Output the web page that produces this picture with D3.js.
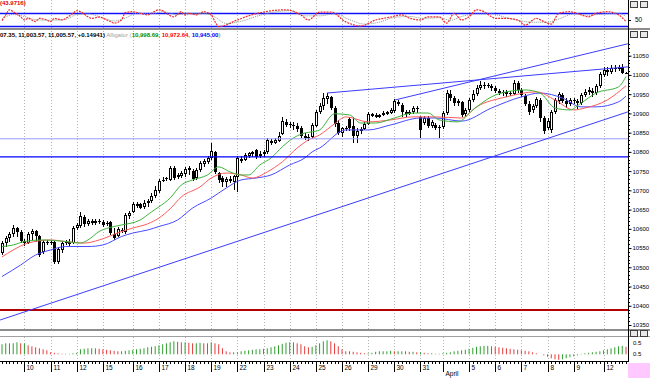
<!DOCTYPE html>
<html>
<head>
<meta charset="utf-8">
<script src="https://cdn.jsdelivr.net/npm/d3@7"></script>
<style>
body { margin: 0; background: #fff; }
svg { display: block; font-family: "Liberation Sans", Arial, sans-serif; }
</style>
</head>
<body>
<svg id="chart"></svg>
<script>
const width = 650, height = 378
const plotRight = 628

// hourly bars, [open, high, low, close]
const candles = [
  [10537,10568,10532,10563],[10563,10581,10553,10576],[10576,10592,10566,10587],[10587,10610,10579,10602],
  [10602,10605,10579,10592],[10592,10597,10563,10568],[10568,10574,10555,10563],[10563,10592,10561,10587],
  [10587,10600,10571,10594],[10594,10597,10566,10581],[10581,10584,10527,10532],[10540,10571,10535,10566],
  [10566,10571,10558,10563],[10563,10571,10558,10566],[10566,10568,10509,10514],[10514,10553,10509,10548],
  [10545,10568,10537,10563],[10563,10571,10558,10566],[10566,10574,10555,10561],[10563,10607,10561,10602],
  [10602,10615,10597,10610],[10607,10644,10602,10633],[10631,10636,10605,10613],[10613,10626,10607,10620],
  [10620,10626,10610,10615],[10615,10626,10610,10620],[10620,10626,10613,10618],[10618,10623,10605,10610],
  [10613,10620,10607,10615],[10618,10620,10584,10589],[10587,10602,10571,10576],[10581,10605,10579,10600],
  [10597,10602,10589,10594],[10592,10641,10587,10636],[10633,10646,10626,10641],[10644,10670,10641,10665],
  [10665,10670,10654,10659],[10665,10667,10652,10654],[10657,10675,10652,10667],[10667,10678,10657,10672],
  [10672,10693,10667,10685],[10685,10711,10680,10701],[10698,10730,10693,10724],[10724,10735,10722,10727],
  [10730,10735,10724,10732],[10727,10763,10724,10758],[10758,10763,10727,10732],[10735,10745,10730,10740],
  [10737,10750,10732,10745],[10743,10761,10735,10756],[10753,10763,10740,10758],[10750,10756,10724,10730],
  [10732,10758,10727,10753],[10753,10776,10748,10771],[10769,10782,10761,10776],[10774,10789,10769,10784],
  [10784,10823,10779,10802],[10800,10802,10743,10748],[10745,10748,10719,10727],[10732,10737,10709,10722],
  [10722,10735,10709,10730],[10730,10737,10719,10724],[10722,10740,10701,10737],[10735,10789,10696,10784],
  [10782,10789,10771,10776],[10779,10797,10776,10792],[10789,10800,10784,10797],[10795,10802,10787,10800],
  [10805,10808,10782,10787],[10789,10802,10784,10795],[10795,10805,10787,10800],[10800,10836,10795,10831],
  [10828,10834,10818,10823],[10823,10836,10821,10831],[10828,10852,10826,10841],[10847,10891,10844,10880],
  [10878,10886,10865,10870],[10870,10878,10862,10873],[10870,10878,10857,10867],[10867,10875,10852,10860],
  [10862,10867,10836,10841],[10841,10849,10831,10836],[10836,10847,10828,10839],[10839,10875,10834,10870],
  [10867,10909,10865,10904],[10904,10927,10899,10919],[10919,10953,10909,10940],[10938,10953,10925,10945],
  [10943,10945,10909,10914],[10914,10919,10865,10873],[10875,10883,10844,10849],[10849,10865,10839,10862],
  [10862,10867,10854,10860],[10886,10891,10854,10862],[10867,10891,10823,10841],[10841,10862,10823,10854],
  [10854,10865,10847,10860],[10860,10878,10857,10873],[10873,10904,10870,10899],[10893,10901,10891,10899],
  [10896,10901,10888,10891],[10891,10899,10888,10896],[10896,10906,10893,10901],[10899,10906,10896,10904],
  [10901,10914,10899,10909],[10906,10938,10901,10932],[10930,10935,10919,10925],[10922,10927,10891,10904],
  [10904,10909,10891,10899],[10899,10909,10896,10904],[10904,10919,10899,10914],[10914,10919,10901,10912],
  [10891,10893,10836,10857],[10875,10893,10870,10888],[10888,10893,10862,10867],[10867,10883,10862,10878],
  [10870,10875,10857,10862],[10862,10870,10836,10865],[10865,10906,10860,10901],[10901,10961,10896,10953],
  [10951,10961,10932,10940],[10940,10945,10919,10927],[10927,10938,10919,10932],[10930,10932,10891,10896],
  [10899,10914,10891,10909],[10909,10940,10904,10935],[10935,10961,10930,10951],[10951,10974,10945,10966],
  [10966,10984,10961,10974],[10974,10982,10964,10971],[10971,10979,10966,10974],[10971,10977,10958,10966],
  [10966,10971,10953,10958],[10958,10964,10948,10953],[10953,10961,10945,10956],[10956,10961,10943,10951],
  [10951,10958,10945,10953],[10951,10987,10948,10979],[10979,10984,10953,10961],[10961,10966,10943,10948],
  [10945,10951,10919,10925],[10925,10932,10896,10904],[10909,10925,10901,10919],[10919,10943,10914,10938],
  [10935,10940,10878,10888],[10888,10893,10847,10854],[10862,10888,10857,10880],[10857,10909,10849,10904],
  [10904,10940,10899,10935],[10932,10956,10925,10951],[10948,10953,10927,10932],[10932,10940,10914,10925],
  [10925,10940,10919,10935],[10935,10940,10925,10932],[10932,10938,10909,10927],[10927,10953,10922,10948],
  [10948,10964,10943,10956],[10956,10969,10948,10961],[10958,10966,10943,10953],[10953,10977,10948,10971],
  [10971,11008,10966,11003],[11000,11021,10995,11013],[11013,11021,10997,11008],[11008,11026,11003,11018],
  [11018,11026,11008,11016],[11016,11026,11010,11021],[11021,11029,11003,11006],[11005.5,11007.35,11003.57,11005.57]
]

// Alligator lines, [bar, price]
const lipsPoints = [[0,10554],[3,10558],[6,10567],[11,10571],[17,10567],[21,10563],[23,10571],[26,10593],[30,10606],[32,10610],[37,10623],[40,10644],[42,10657],[45,10680],[48,10714],[51,10727],[55,10740],[58,10761],[61,10748],[64,10740],[66,10740],[69,10766],[72,10784],[75,10813],[78,10836],[81,10849],[83,10852],[85,10857],[89,10899],[93,10896],[96,10875],[100,10875],[105,10888],[110,10901],[114,10901],[117,10883],[122,10878],[126,10909],[131,10943],[135,10956],[140,10961],[144,10953],[148,10914],[152,10909],[155,10927],[159,10953],[165,10969],[167,10996]]
const teethPoints = [[0,10527],[3,10545],[7,10563],[13,10571],[17,10567],[22,10563],[26,10571],[32,10593],[35,10602],[39,10613],[42,10628],[45,10652],[48,10683],[53,10709],[56,10732],[60,10745],[64,10740],[67,10732],[71,10748],[75,10774],[79,10810],[82,10831],[85,10844],[89,10873],[92,10891],[98,10878],[104,10883],[110,10891],[116,10891],[123,10888],[127,10917],[135,10943],[143,10956],[148,10935],[153,10909],[156,10914],[162,10935],[167,10972]]
const jawPoints = [[0,10476],[5,10506],[9,10532],[13,10545],[17,10554],[23,10554],[27,10558],[32,10580],[35,10589],[39,10597],[42,10606],[47,10623],[51,10654],[56,10680],[60,10706],[64,10727],[68,10732],[72,10740],[77,10766],[81,10784],[83,10800],[85,10810],[92,10857],[98,10857],[104,10870],[112,10888],[116,10888],[123,10880],[131,10914],[139,10943],[144,10953],[150,10940],[155,10917],[159,10917],[165,10930],[167,10945]]

// drawn objects
const trendLines = [
  {from: [-0.5, 10363], to: [167.5, 10904]},
  {from: [105.2, 10935], to: [167.5, 11081]},
  {from: [87, 10953], to: [167.5, 11021]},
]
const levels = [
  {price: 10834, color: "#9a9aff", w: 1},
  {price: 10787, color: "#0000ff", w: 1.4},
  {price: 10389, color: "#b40000", w: 2},
]

// top oscillator, [bar, value]
const oscMain = [[0,47],[1,65],[2,81],[3,75],[5,59],[6,49],[7,54],[9,44],[10,54],[12,49],[13,44],[14,54],[16,49],[17,54],[19,70],[20,78],[21,75],[23,59],[24,54],[26,58],[28,49],[29,44],[30,39],[32,49],[33,72],[35,75],[37,70],[39,65],[40,70],[42,81],[43,78],[44,70],[46,59],[48,75],[49,65],[50,70],[52,65],[53,70],[54,75],[56,65],[57,44],[58,28],[63,49],[66,62],[70,74],[76,81],[80,65],[82,49],[85,74],[88,74],[92,43],[96,30],[100,49],[104,58],[107,65],[109,55],[112,49],[114,59],[117,59],[119,39],[121,70],[123,49],[125,59],[127,81],[129,75],[131,59],[132,54],[135,54],[138,49],[140,33],[143,54],[145,44],[147,36],[149,70],[152,75],[155,65],[157,59],[159,70],[162,75],[165,65],[167,44]]
const oscSignal = [[0,52],[3,66],[6,60],[9,50],[13,48],[17,51],[20,66],[23,68],[27,56],[30,46],[33,55],[36,70],[40,68],[43,75],[47,66],[50,70],[54,70],[57,58],[60,38],[64,45],[68,60],[72,72],[77,78],[81,62],[85,62],[89,68],[93,50],[97,36],[101,42],[105,57],[109,60],[113,54],[117,56],[120,48],[123,60],[127,68],[131,68],[135,56],[139,46],[142,42],[146,42],[149,52],[153,68],[157,64],[161,68],[165,70],[167,60]]
const oscLevels = [70, 30]

// bottom histogram, one value per bar
const aoValues = [
  40,44,44,44,48,44,44, 36,32,28,24,20,16, 8,6,4,2,2,2,4,6, 20,22,24,24,24,22,
  20,18,16,14,12,12,14,16, 18,20,22,24,28,30,32,36,
  40,44,48,52,50,48,48,46,44,44,46,44,44,48,44,40, 24,12,8,8,
  8,12,14,16,18,20,20,22,24,28,32,36, 42,46,48,48,44, 40,32,28,30, 36,44,52,56,52,
  44,32,20,12, 12,10,8,6,4,4,6, 10,12,12,12,14,12,12,12, 12,10,10,8,8,6,4,4,2,2,
  4,6,8,12,14,16,18, 22,26,30,32,34,34,32,30,28, 26,24,22,20,18,16,14,12,8,4,0,
  -4,-10,-16,-20,-22,-20,-16,-12, -8,-4,2,4,6,8,10,12, 16,20,24,28,32,34,30
]

// first bar of each day and its label
const dayStarts = [6,13,20,27,35,42,49,56,63,70,77,84,91,98,105,112,118,125,132,139,146,153,161]
const dayLabels = ["10","11","12","15","16","17","18","19","22","23","24","25","26","29","30","31","April","5","6","7","8","9","12"]
const priceTicks = d3.range(10350, 11051, 50)

const svg = d3.select("svg#chart")
    .attr("width", width)
    .attr("height", height)

const x = d3.scaleLinear().domain([0, candles.length - 1]).range([2, 626])
const y = d3.scaleLinear().domain([10350, 11050]).range([325, 55.7])
const yOsc = d3.scaleLinear().domain([30, 70]).range([26, 13.3])
const yAO = d3.scaleLinear().domain([0, 40]).range([354.3, 344.3])

const panes = {
    osc: {top: 0, bottom: 28},
    main: {top: 31, bottom: 329},
    ao: {top: 337, bottom: 361},
}

const defs = svg.append("defs")
for (const [name, p] of Object.entries(panes)) {
    defs.append("clipPath").attr("id", "clip-" + name)
        .append("rect")
        .attr("x", 0).attr("y", p.top)
        .attr("width", plotRight).attr("height", p.bottom - p.top)
}

svg.append("rect").attr("width", width).attr("height", height).attr("fill", "#fff")

// V grid lines in every pane
for (const p of Object.values(panes)) {
    svg.append("g")
        .selectAll("line")
        .data(dayStarts)
        .join("line")
        .attr("x1", d => Math.round(x(d)) + 0.5)
        .attr("x2", d => Math.round(x(d)) + 0.5)
        .attr("y1", p.top)
        .attr("y2", p.bottom)
        .attr("stroke", "#b4b4b4")
        .attr("stroke-dasharray", "1,2")
}

// ---- top oscillator ----
const osc = svg.append("g").attr("clip-path", "url(#clip-osc)")
osc.selectAll("line.level")
    .data(oscLevels)
    .join("line").classed("level", true)
    .attr("x1", 0).attr("x2", plotRight)
    .attr("y1", d => Math.round(yOsc(d)) + 0.5)
    .attr("y2", d => Math.round(yOsc(d)) + 0.5)
    .attr("stroke", "#1010ff")
    .attr("stroke-width", 1.3)

const oscLine = d3.line()
    .x(d => x(d[0]))
    .y(d => yOsc(d[1]))
    .curve(d3.curveMonotoneX)

osc.append("path")
    .attr("d", oscLine(oscSignal))
    .attr("fill", "none")
    .attr("stroke", "#8a9a8a")
    .attr("stroke-dasharray", "1,1")
osc.append("path")
    .attr("d", oscLine(oscMain))
    .attr("fill", "none")
    .attr("stroke", "#f03030")
    .attr("stroke-width", 1.2)
    .attr("stroke-dasharray", "2,1")

svg.append("text")
    .attr("x", 0).attr("y", 5)
    .attr("font-size", 6).attr("font-weight", "bold")
    .attr("fill", "#e00000")
    .text("(43.9716)")

// ---- main chart ----
const main = svg.append("g").attr("clip-path", "url(#clip-main)")

const bars = main.append("g")
    .selectAll("g.candle")
    .data(candles)
    .join("g").classed("candle", true)
    .attr("shape-rendering", "crispEdges")

bars.append("line")
    .attr("x1", (d, i) => Math.round(x(i)) + 0.5)
    .attr("x2", (d, i) => Math.round(x(i)) + 0.5)
    .attr("y1", d => y(d[1]))
    .attr("y2", d => y(d[2]))
    .attr("stroke", "#000")

bars.append("rect")
    .attr("x", (d, i) => Math.round(x(i)) - 1)
    .attr("y", d => Math.round(y(Math.max(d[0], d[3]))))
    .attr("width", 3)
    .attr("height", d => Math.max(1, Math.round(Math.abs(y(d[0]) - y(d[3])))))
    .attr("fill", "#000")

bars.filter(d => d[3] > d[0] && y(d[0]) - y(d[3]) > 2.5)
    .append("rect")
    .attr("x", d => Math.round(x(candles.indexOf(d))))
    .attr("y", d => Math.round(y(d[3])) + 1)
    .attr("width", 1)
    .attr("height", d => Math.round(y(d[0]) - y(d[3])) - 2)
    .attr("fill", "#fff")

const gatorLine = d3.line()
    .x(d => x(d[0]))
    .y(d => y(d[1]))
    .curve(d3.curveMonotoneX)

const gator = [
    {pts: jawPoints, color: "#4a4aff"},
    {pts: teethPoints, color: "#ff5a5a"},
    {pts: lipsPoints, color: "#3cb43c"},
]
main.selectAll("path.gator")
    .data(gator)
    .join("path").classed("gator", true)
    .attr("d", d => gatorLine(d.pts))
    .attr("fill", "none")
    .attr("stroke", d => d.color)
    .attr("stroke-width", 1)

main.selectAll("line.level")
    .data(levels)
    .join("line").classed("level", true)
    .attr("x1", 0).attr("x2", plotRight)
    .attr("y1", d => y(d.price))
    .attr("y2", d => y(d.price))
    .attr("stroke", d => d.color)
    .attr("stroke-width", d => d.w)

main.selectAll("line.trend")
    .data(trendLines)
    .join("line").classed("trend", true)
    .attr("x1", d => x(d.from[0]))
    .attr("y1", d => y(d.from[1]))
    .attr("x2", d => x(d.to[0]))
    .attr("y2", d => y(d.to[1]))
    .attr("stroke", "#3c3cff")
    .attr("stroke-width", 1)

const header = svg.append("text")
    .attr("x", 0).attr("y", 37)
    .attr("font-size", 6).attr("font-weight", "bold")
header.append("tspan").attr("fill", "#000").text("07.35, 11,003.57, 11,005.57, +0.14941)")
header.append("tspan").attr("fill", "#a0a0a0").attr("font-weight", "normal").text(" Alligator (")
header.append("tspan").attr("fill", "#009000").text("10,998.69, ")
header.append("tspan").attr("fill", "#ff0000").text("10,972.64, ")
header.append("tspan").attr("fill", "#0000ff").text("10,945.00")
header.append("tspan").attr("fill", "#a0a0a0").text(")")

// right price axis
const yAxis = svg.append("g")
    .attr("transform", `translate(${plotRight + 0.5}, 0)`)
    .call(d3.axisRight(y).tickValues(priceTicks).tickSize(3).tickPadding(1).tickFormat(d3.format("d")))
yAxis.select(".domain").remove()
yAxis.selectAll("text").attr("font-size", 6).attr("font-family", "Liberation Sans, Arial, sans-serif")
defs.append("clipPath").attr("id", "clip-axis")
    .append("rect").attr("x", plotRight).attr("y", panes.main.top).attr("width", 10).attr("height", panes.main.bottom - panes.main.top)
svg.append("g")
    .attr("clip-path", "url(#clip-axis)")
    .selectAll("line")
    .data(d3.range(10350, 11081, 10))
    .join("line")
    .attr("x1", plotRight).attr("x2", plotRight + 2)
    .attr("y1", d => Math.round(y(d)) + 0.5)
    .attr("y2", d => Math.round(y(d)) + 0.5)
    .attr("stroke", "#000")

// oscillator axis label
svg.append("line")
    .attr("x1", plotRight).attr("x2", plotRight + 3)
    .attr("y1", Math.round(yOsc(50)) + 0.5).attr("y2", Math.round(yOsc(50)) + 0.5)
    .attr("stroke", "#000")
svg.append("text")
    .attr("x", plotRight + 7).attr("y", yOsc(50) + 2.3)
    .attr("font-size", 6.5)
    .text("50")

// ---- bottom histogram ----
const ao = svg.append("g").attr("clip-path", "url(#clip-ao)")
ao.selectAll("line")
    .data(aoValues)
    .join("line")
    .attr("x1", (d, i) => x(i))
    .attr("x2", (d, i) => x(i))
    .attr("y1", yAO(0))
    .attr("y2", d => yAO(d))
    .attr("stroke", (d, i) => i > 0 && d < aoValues[i - 1] ? "#e63c3c" : "#2f9e2f")
    .attr("stroke-width", 1)

svg.append("text").attr("x", plotRight + 5).attr("y", 345).attr("font-size", 6).text("0.5")
svg.append("text").attr("x", plotRight + 5).attr("y", 356).attr("font-size", 6).text("0.5")

// ---- separators, axis lines ----
const frame = svg.append("g").attr("shape-rendering", "crispEdges")
frame.append("rect").attr("x", 0).attr("y", 28).attr("width", width).attr("height", 2).attr("fill", "#8c8c8c")
frame.append("rect").attr("x", 0).attr("y", 329).attr("width", width).attr("height", 2).attr("fill", "#8c8c8c")
frame.append("rect").attr("x", 0).attr("y", 336).attr("width", width).attr("height", 1).attr("fill", "#a0a0a0")
frame.append("rect").attr("x", plotRight).attr("y", 0).attr("width", 1).attr("height", 362).attr("fill", "#000")
frame.append("rect").attr("x", 0).attr("y", 361).attr("width", plotRight + 1).attr("height", 1).attr("fill", "#000")
frame.append("rect").attr("x", plotRight).attr("y", 363).attr("width", 22).attr("height", 15).attr("fill", "#ffc8ff")

// window buttons
for (const top of [1, 31, 330]) {
    for (const bx of [630, 640]) {
        frame.append("rect").attr("x", bx + 0.5).attr("y", top + 0.5)
            .attr("width", 7).attr("height", 6)
            .attr("fill", "#e8e8e8").attr("stroke", "#404040")
    }
}

// date axis
const dateAxis = svg.append("g").attr("shape-rendering", "crispEdges")
dateAxis.selectAll("line.minor")
    .data(d3.range(0, candles.length))
    .join("line").classed("minor", true)
    .attr("x1", d => Math.round(x(d)) + 0.5)
    .attr("x2", d => Math.round(x(d)) + 0.5)
    .attr("y1", 362).attr("y2", 364)
    .attr("stroke", "#000")
dateAxis.selectAll("line.major")
    .data(dayStarts)
    .join("line").classed("major", true)
    .attr("x1", d => Math.round(x(d)) + 0.5)
    .attr("x2", d => Math.round(x(d)) + 0.5)
    .attr("y1", 362).attr("y2", 372)
    .attr("stroke", "#000")
dateAxis.selectAll("text")
    .data(dayStarts)
    .join("text")
    .attr("x", d => Math.round(x(d)) + 2.5)
    .attr("y", (d, i) => dayLabels[i] === "April" ? 376 : 370)
    .attr("font-size", 6.5)
    .text((d, i) => dayLabels[i])
</script>
</body>
</html>
